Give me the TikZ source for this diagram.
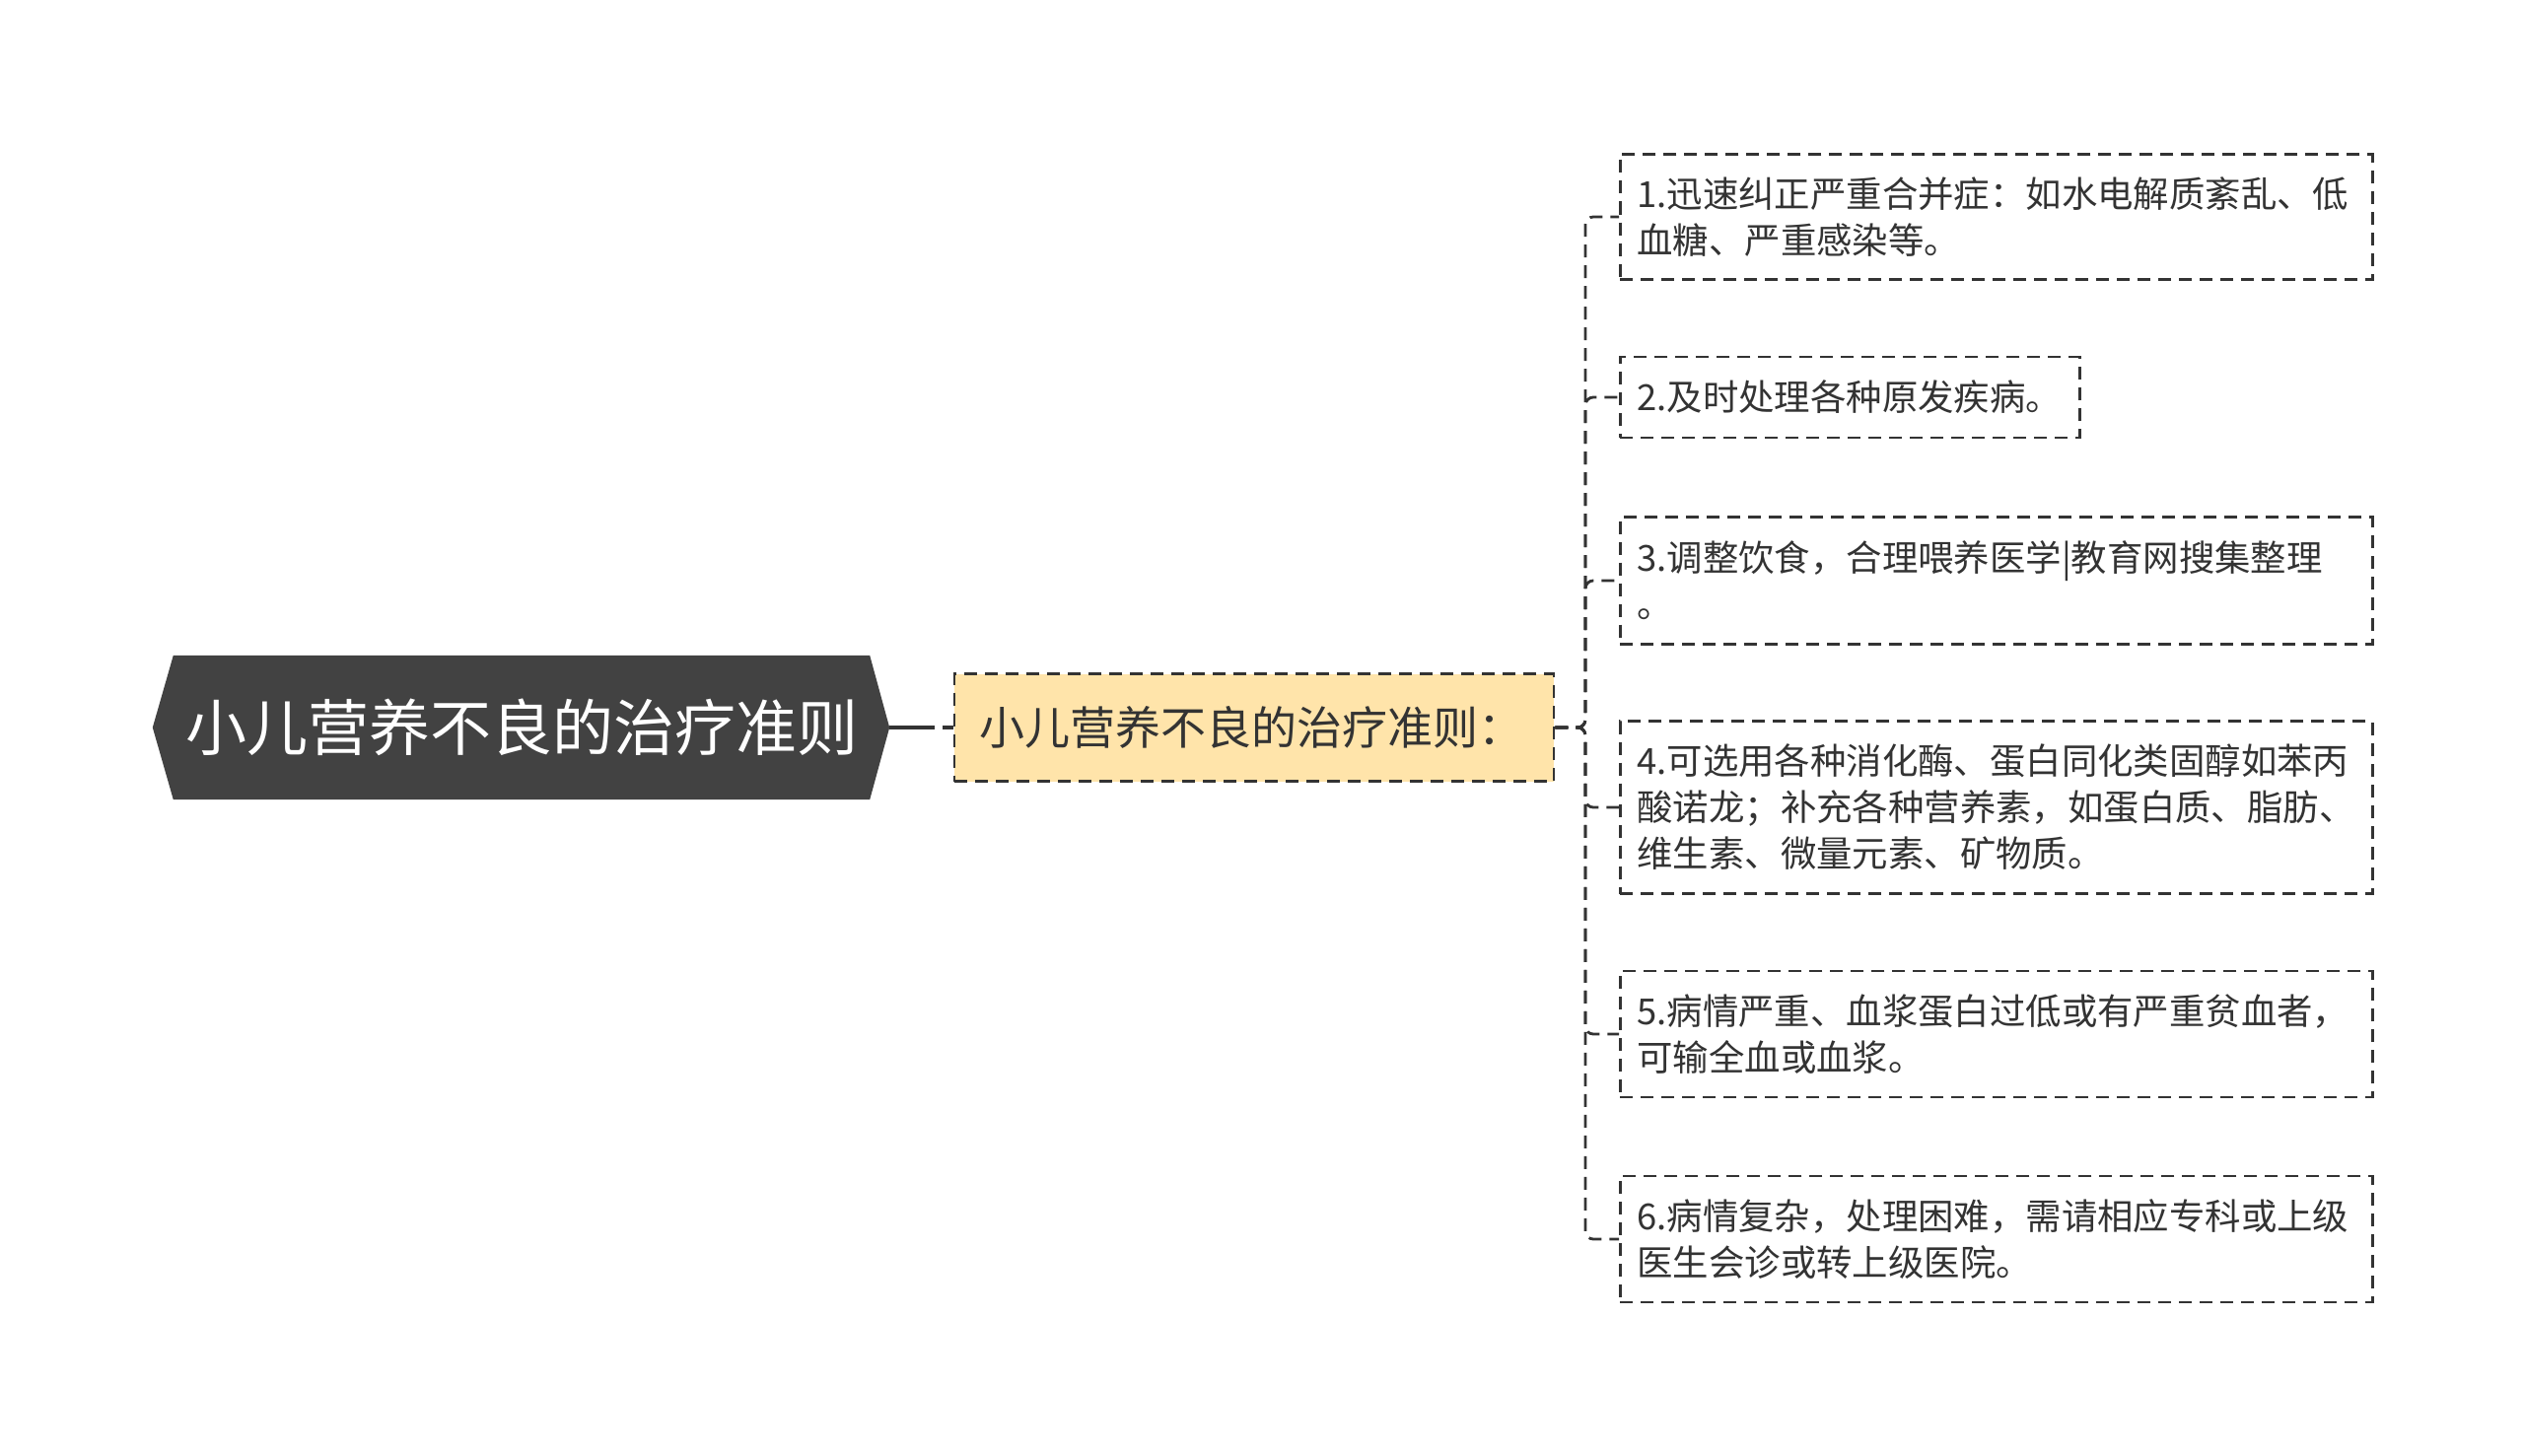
\documentclass[tikz,border=0pt]{standalone}
\usepackage{fontspec}
\setmainfont{Noto Sans CJK SC}
\usetikzlibrary{calc,backgrounds}
\definecolor{rootgray}{HTML}{424242}
\definecolor{topicfill}{HTML}{FFE4AA}
\definecolor{inkgray}{HTML}{333333}

\begin{document}
\begin{tikzpicture}[x=1pt,y=-1pt,
                    root node/.style={inner sep=0pt,minimum width=706pt,minimum height=146pt,
                                      text=white,font=\fontsize{62}{68}\selectfont},
                    dash link/.style={draw=inkgray,line width=2.8pt,dash pattern=on 13pt off 8pt},
                    topic node/.style={dash link,fill=topicfill,minimum height=109pt,
                                       inner xsep=25pt,text width=558pt,align=left,
                                       text=inkgray,font=\fontsize{46}{52}\selectfont},
                    leaf node/.style={dash link,fill=white,anchor=west,inner xsep=17pt,inner ysep=4pt,
                                      text width=729pt,align=left,text=inkgray,
                                      font=\fontsize{36.4}{47}\selectfont}
                   ]
   \useasboundingbox (0,0) rectangle (2560,1477);

   \node[root node] (root) at (529,738) {小儿营养不良的治疗准则};
   \begin{pgfonlayer}{background}
     \fill[rootgray] (root.north west) -- (root.north east) -- ($(root.east)+(20,0)$)
       -- (root.south east) -- (root.south west) -- ($(root.west)+(-21,0)$) -- cycle;
   \end{pgfonlayer}
   \coordinate (root tip) at ($(root.east)+(20,0)$);

   \node[topic node] (topic) at (1272,738) {小儿营养不良的治疗准则：};
   \coordinate (fork) at (1608,738);

   \node[leaf node,minimum height=127pt] (l1) at (1642,220)
     {1.迅速纠正严重合并症：如水电解质紊乱、低\\血糖、严重感染等。};
   \node[leaf node,minimum height=82pt,text width=432pt] (l2) at (1642,403)
     {2.及时处理各种原发疾病。};
   \node[leaf node,minimum height=129pt] (l3) at (1642,589)
     {3.调整饮食，合理喂养医学|教育网搜集整理\\。};
   \node[leaf node,minimum height=175pt] (l4) at (1642,819)
     {4.可选用各种消化酶、蛋白同化类固醇如苯丙\\酸诺龙；补充各种营养素，如蛋白质、脂肪、\\维生素、微量元素、矿物质。};
   \node[leaf node,minimum height=128pt] (l5) at (1642,1049)
     {5.病情严重、血浆蛋白过低或有严重贫血者，\\可输全血或血浆。};
   \node[leaf node,minimum height=128pt] (l6) at (1642,1257)
     {6.病情复杂，处理困难，需请相应专科或上级\\医生会诊或转上级医院。};

   \draw[draw=inkgray,line width=4pt,dash pattern=on 46pt off 8pt on 13pt off 0pt] (root tip) -- (topic.west);
   \foreach \leaf in {l1,l2,l3,l4,l5,l6}
     \draw[dash link,rounded corners=8pt] (topic.east) -- (fork) |- (\leaf.west);
\end{tikzpicture}
\end{document}
